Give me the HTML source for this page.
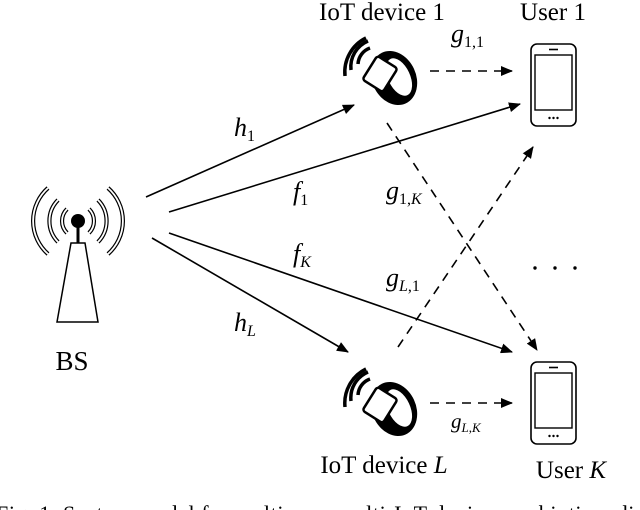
<!DOCTYPE html>
<html><head><style>
html,body{margin:0;padding:0;background:#fff;}
svg{display:block;}
text{font-family:"Liberation Serif",serif;fill:#000;}
.i{font-style:italic;}
</style></head><body>
<svg width="640" height="510" viewBox="0 0 640 510" xmlns="http://www.w3.org/2000/svg">
<defs>
<marker id="a" markerWidth="12" markerHeight="10" refX="11" refY="5" orient="auto" markerUnits="userSpaceOnUse">
<path d="M0,0 L12,5 L0,10 Z" fill="#000"/></marker>
<g id="iot">
<path d="M-14,-8 A18,18 0 0 1 -2,-24" fill="none" stroke="#000" stroke-width="3.5"/>
<path d="M-21,-2 A28,28 0 0 1 -4,-31" fill="none" stroke="#000" stroke-width="3.5"/>
<path d="M-27,4 A38,38 0 0 1 -6,-34" fill="none" stroke="#000" stroke-width="3.5"/>
<ellipse cx="22" cy="6" rx="22" ry="28" fill="#000" transform="rotate(-25 22 6)"/>
<ellipse cx="27" cy="5" rx="11" ry="20" fill="#fff" transform="rotate(-25 27 5)"/>
<rect x="-4" y="-12" width="24" height="28" rx="3" fill="#fff" stroke="#000" stroke-width="2.5" transform="rotate(32 8 2)"/>
</g>
<g id="phone">
<rect x="0" y="0" width="45" height="82" rx="6" fill="#fff" stroke="#000" stroke-width="1.6"/>
<rect x="4" y="11" width="37" height="55" fill="#fff" stroke="#000" stroke-width="1.4"/>
<line x1="18" y1="5.5" x2="27" y2="5.5" stroke="#000" stroke-width="1.6"/>
<circle cx="18.5" cy="74" r="1.2"/><circle cx="22.5" cy="74" r="1.2"/><circle cx="26.5" cy="74" r="1.2"/>
</g>
</defs>

<path d="M71,243 L85,243 L98,322 L57,322 Z" fill="none" stroke="#000" stroke-width="1.5"/>
<line x1="78" y1="222" x2="78" y2="243" stroke="#000" stroke-width="3"/>
<circle cx="78" cy="221" r="7" fill="#000"/>
<g fill="none" stroke="#000" stroke-width="4.2">
<path d="M67,209 A17,17 0 0 0 67,233"/><path d="M89,209 A17,17 0 0 1 89,233"/>
<path d="M58,200 A30,30 0 0 0 58,242"/><path d="M98,200 A30,30 0 0 1 98,242"/>
<path d="M48,188 A44,44 0 0 0 48,254"/><path d="M108,188 A44,44 0 0 1 108,254"/>
</g>
<g fill="none" stroke="#fff" stroke-width="1.8">
<path d="M67,209 A17,17 0 0 0 67,233"/><path d="M89,209 A17,17 0 0 1 89,233"/>
<path d="M58,200 A30,30 0 0 0 58,242"/><path d="M98,200 A30,30 0 0 1 98,242"/>
<path d="M48,188 A44,44 0 0 0 48,254"/><path d="M108,188 A44,44 0 0 1 108,254"/>
</g>
<text x="72" y="370" font-size="27" text-anchor="middle">BS</text>

<use href="#iot" transform="translate(372,72)"/>
<use href="#iot" transform="translate(372,403)"/>
<text x="382" y="20" font-size="25" text-anchor="middle">IoT device 1</text>
<text x="384" y="473" font-size="25" text-anchor="middle">IoT device <tspan class="i">L</tspan></text>

<use href="#phone" transform="translate(531,44)"/>
<use href="#phone" transform="translate(531,362)"/>
<text x="553" y="20" font-size="25" text-anchor="middle">User 1</text>
<text x="571" y="478" font-size="25" text-anchor="middle">User <tspan class="i">K</tspan></text>

<g stroke="#000" stroke-width="1.6" fill="none" marker-end="url(#a)">
<line x1="146" y1="197" x2="354" y2="105"/>
<line x1="169" y1="212" x2="520" y2="104"/>
<line x1="169" y1="233" x2="512" y2="352"/>
<line x1="152" y1="238" x2="348" y2="352"/>
</g>
<g stroke="#000" stroke-width="1.6" fill="none" stroke-dasharray="9,7" marker-end="url(#a)">
<line x1="430" y1="71" x2="512" y2="71"/>
<line x1="430" y1="403" x2="512" y2="403"/>
<line x1="387" y1="123" x2="537" y2="350"/>
<line x1="398" y1="347" x2="533" y2="147"/>
</g>

<g font-size="26">
<text x="234" y="136" class="i">h<tspan font-size="16" font-style="normal" dy="5">1</tspan></text>
<text x="293" y="200" class="i">f<tspan font-size="16" font-style="normal" dy="5">1</tspan></text>
<text x="386" y="199" class="i">g<tspan font-size="16" dy="5"><tspan font-style="normal">1,</tspan>K</tspan></text>
<text x="293" y="262" class="i">f<tspan font-size="16" dy="5">K</tspan></text>
<text x="386" y="286" class="i">g<tspan font-size="16" dy="5">L<tspan font-style="normal">,1</tspan></tspan></text>
<text x="234" y="331" class="i">h<tspan font-size="16" dy="5">L</tspan></text>
<text x="451" y="42" class="i">g<tspan font-size="16" font-style="normal" dy="5">1,1</tspan></text>
<text x="451" y="428" class="i" font-size="21">g<tspan font-size="13" dy="4">L<tspan font-style="normal">,</tspan>K</tspan></text>
</g>
<g fill="#000"><circle cx="535" cy="268" r="1.7"/><circle cx="555" cy="268" r="1.7"/><circle cx="575" cy="268" r="1.7"/></g>

<text x="-4" y="521" font-size="22" textLength="650" lengthAdjust="spacing">Fig.  1.    System  model  for  multi-user  multi-IoT-device  symbiotic  radio</text>
</svg>
</body></html>
